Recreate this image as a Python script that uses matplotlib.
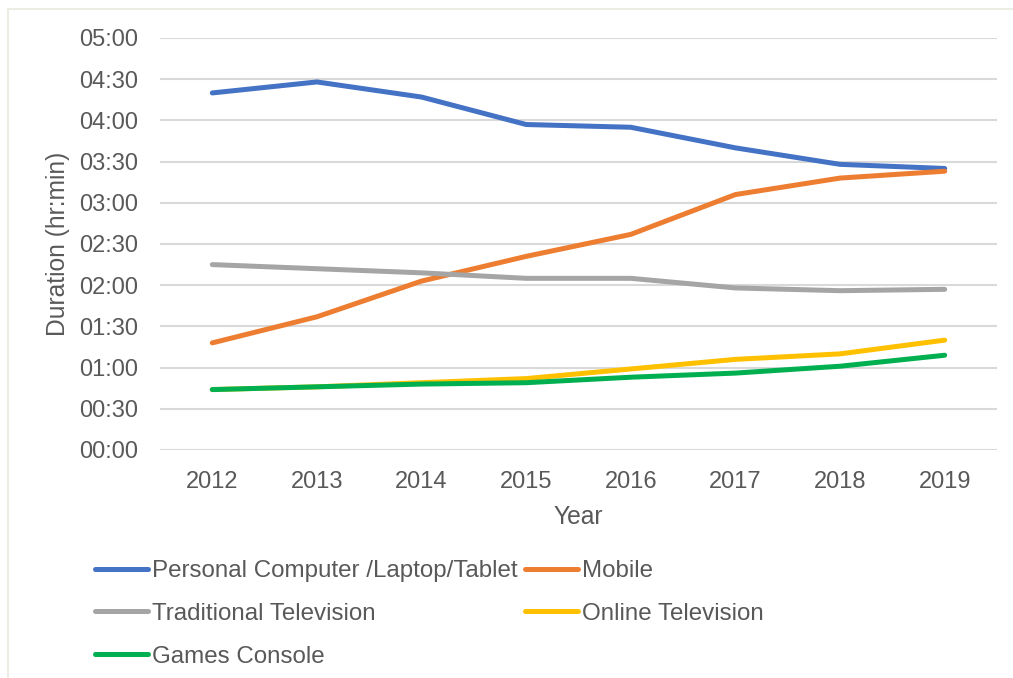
import matplotlib
matplotlib.use("Agg")
import matplotlib.pyplot as plt
from matplotlib.lines import Line2D
from matplotlib.ticker import FixedLocator, FuncFormatter

plt.rcParams['font.family'] = ['Liberation Sans', 'DejaVu Sans']

# Daily time spent per device, in minutes
years = ["2012", "2013", "2014", "2015", "2016", "2017", "2018", "2019"]
pc_laptop_tablet = [260, 268, 257, 237, 235, 220, 208, 205]
mobile = [78, 97, 123, 141, 157, 186, 198, 203]
traditional_tv = [135, 132, 129, 125, 125, 118, 116, 117]
online_tv = [44, 46, 49, 52, 59, 66, 70, 80]
games_console = [44, 46, 48, 49, 53, 56, 61, 69]

series = [
    ("Personal Computer /Laptop/Tablet", pc_laptop_tablet, "#4472C4"),
    ("Mobile", mobile, "#ED7D31"),
    ("Traditional Television", traditional_tv, "#A5A5A5"),
    ("Online Television", online_tv, "#FFC000"),
    ("Games Console", games_console, "#00B050"),
]

text_color = "#595959"
grid_color = "#D9D9D9"

fig = plt.figure(figsize=(10.13, 6.78), dpi=100)
ax = fig.add_axes([160 / 1013, 1 - 450 / 678, 837 / 1013, 412 / 678])

x = list(range(len(years)))
handles = {}
for name, vals, color in series:
    (ln,) = ax.plot(x, vals, color=color, lw=3.6, solid_capstyle="round",
                    solid_joinstyle="round", label=name)
    handles[name] = ln

ax.set_xlim(-0.5, len(years) - 0.5)
ax.set_ylim(0, 300)
ax.yaxis.set_major_locator(FixedLocator(range(0, 301, 30)))
ax.yaxis.set_major_formatter(FuncFormatter(lambda v, p: f"{int(v) // 60:02d}:{int(v) % 60:02d}"))
ax.set_xticks(x)
ax.set_xticklabels(years)

ax.grid(axis="y", color=grid_color, lw=1.5)
ax.set_axisbelow(True)
for s in ax.spines.values():
    s.set_visible(False)
ax.tick_params(axis="both", length=0, labelsize=17, colors=text_color)
ax.tick_params(axis="y", pad=16)
ax.tick_params(axis="x", pad=15)

ax.set_ylabel("Duration (hr:min)", fontsize=17.7, color=text_color, labelpad=6)
ax.set_xlabel("Year", fontsize=17.7, color=text_color, labelpad=9)

order = ["Personal Computer /Laptop/Tablet", "Traditional Television", "Games Console",
         "Mobile", "Online Television"]
leg = fig.legend([handles[n] for n in order], order, ncol=2,
                 loc="upper left", bbox_to_anchor=(95 / 1013, 1 - 560 / 678),
                 frameon=False, fontsize=17.4, handlelength=2.2, handletextpad=0.16,
                 columnspacing=0.3, labelspacing=0.86, borderaxespad=0, borderpad=0)
for t in leg.get_texts():
    t.set_color(text_color)

# light frame along the left and top edges
frame_color = "#EDEDE6"
fig.add_artist(Line2D([8 / 1013, 8 / 1013], [0, 1 - 9 / 678], transform=fig.transFigure,
                      color=frame_color, lw=1.5))
fig.add_artist(Line2D([8 / 1013, 1], [1 - 9 / 678, 1 - 9 / 678], transform=fig.transFigure,
                      color=frame_color, lw=1.5))

fig.savefig("out.png", dpi=100, facecolor="white")
